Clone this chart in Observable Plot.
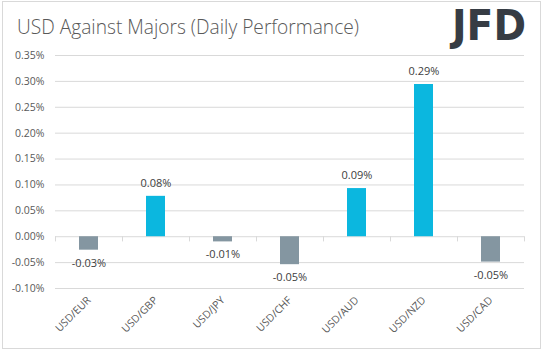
<!DOCTYPE html>
<html>
<head>
<meta charset="utf-8">
<script src="https://cdn.jsdelivr.net/npm/d3@7"></script>
<script src="https://cdn.jsdelivr.net/npm/@observablehq/plot@0.6"></script>
<style>
  html, body { margin: 0; padding: 0; background: #fff; }
  #wrap { position: relative; width: 543px; height: 351px; overflow: hidden; background: #fff; }
  #border { position: absolute; left: 2px; top: 1px; width: 537px; height: 346px; border: 1px solid #d9d9d9; pointer-events: none; }
  #head { position: absolute; left: 0; top: 0; }
  #chart { position: absolute; left: 0; top: 0; }
</style>
</head>
<body>
<div id="wrap">
  <div id="chart"></div>
  <svg id="head" width="543" height="50">
    <text x="17" y="33.5" font-family="Open Sans" font-weight="300" font-size="21" fill="#595959" textLength="342" lengthAdjust="spacingAndGlyphs">USD Against Majors (Daily Performance)</text>
    <text x="452" y="40" font-family="DejaVu Sans" font-weight="bold" font-size="42" fill="#363c44" textLength="74" lengthAdjust="spacingAndGlyphs">JFD</text>
  </svg>
  <div id="border"></div>
</div>
<script>
const categories = ["USD/EUR", "USD/GBP", "USD/JPY", "USD/CHF", "USD/AUD", "USD/NZD", "USD/CAD"];
const values = [-0.026, 0.078, -0.010, -0.054, 0.093, 0.294, -0.049];
const valueLabels = ["-0.03%", "0.08%", "-0.01%", "-0.05%", "0.09%", "0.29%", "-0.05%"];
const yTicks = [-0.10, -0.05, 0.00, 0.05, 0.10, 0.15, 0.20, 0.25, 0.30, 0.35];

const data = categories.map((c, i) => ({cat: c, value: values[i], label: valueLabels[i], sign: values[i] >= 0 ? "pos" : "neg"}));

const W = 543, H = 351, ML = 55, MR = 19, MT = 55, MB = 63;
const step = (W - ML - MR) / categories.length;

const chart = Plot.plot({
  width: W, height: H,
  marginLeft: ML, marginRight: MR, marginTop: MT, marginBottom: MB,
  style: {fontFamily: "Open Sans, sans-serif", background: "transparent"},
  x: {domain: categories, paddingInner: 0.72, paddingOuter: 0.36},
  y: {domain: [-0.10, 0.35]},
  color: {domain: ["pos", "neg"], range: ["#0bb7df", "#8496a1"]},
  marks: [
    Plot.ruleY(yTicks, {stroke: "#d9d9d9", strokeWidth: 1}),
    Plot.ruleX(categories, {x: d => d, dx: -step / 2, y1: 0, y2: -0.01, stroke: "#d9d9d9"}),
    Plot.ruleX(categories.slice(-1), {x: d => d, dx: step / 2, y1: 0, y2: -0.01, stroke: "#d9d9d9"}),
    Plot.barY(data, {x: "cat", y: "value", fill: "sign"}),
    Plot.text(data.filter(d => d.value >= 0), {x: "cat", y: "value", text: "label", dy: -13, fill: "#404040", fontSize: 11}),
    Plot.text(data.filter(d => d.value < 0), {x: "cat", y: "value", text: "label", dy: 13, fill: "#404040", fontSize: 11}),
    Plot.axisY({ticks: yTicks, tickFormat: d => d.toFixed(2) + "%", tickSize: 0, tickPadding: 11, fontSize: 10.5, color: "#595959", label: null}),
    Plot.axisX({anchor: "bottom", tickSize: 0, tickPadding: 10, tickRotate: -45, fontSize: 10.5, color: "#595959", label: null})
  ]
});
document.getElementById("chart").appendChild(chart);
</script>
</body>
</html>
